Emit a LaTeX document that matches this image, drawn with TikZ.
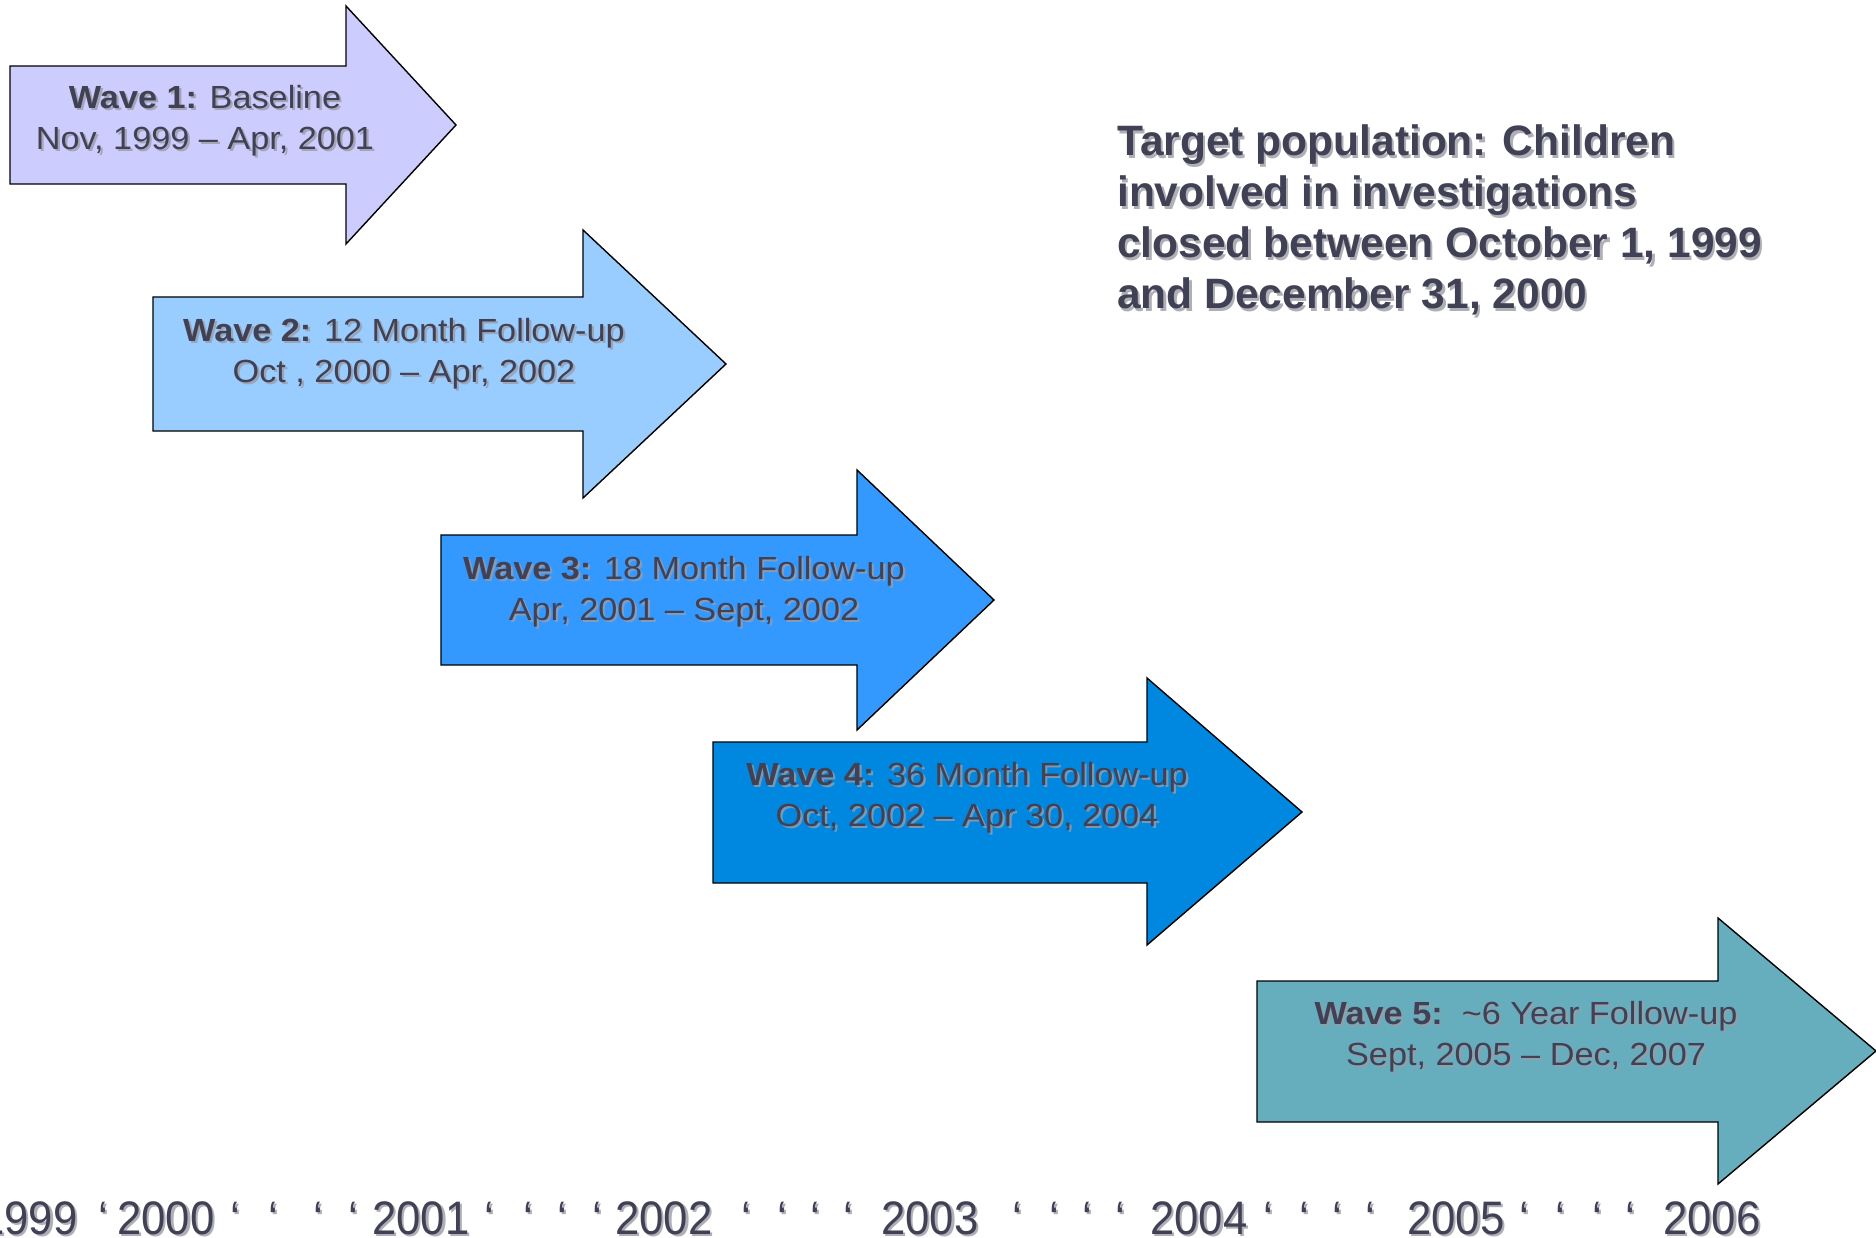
\documentclass[tikz,border=0pt]{standalone}
\usepackage{fontspec}
\setmainfont{Liberation Sans}
\newfontfamily\wavefont[FakeStretch=1.07]{Liberation Sans}
\newfontfamily\axisfont[FakeStretch=0.93]{Liberation Sans}
\usetikzlibrary{calc}

\definecolor{waveA}{HTML}{CCCCFF}
\definecolor{waveB}{HTML}{99CCFF}
\definecolor{waveC}{HTML}{3399FF}
\definecolor{waveD}{HTML}{0088E0}
\definecolor{waveE}{HTML}{66AEBE}
\definecolor{ink}{HTML}{414155}
\definecolor{inkshadow}{HTML}{9C9CA6}

% text drawn twice: a soft offset shadow, then the dark text on top
\newcommand\shadowed[4]{%
  \node[#3, text=inkshadow, text opacity=0.8] (#1-sh) at ($(#2)+(2.2,2.2)$) {#4};
  \node[#3, text=ink] (#1) at (#2) {#4};
}

% block arrow: colour, left x, body top, body bottom, head x, head top, head bottom, tip x, tip y
\newcommand\blockarrow[9]{%
  \draw[arrowshape, fill=#1] (#2,#3) -- (#5,#3) -- (#5,#6) -- (#8,#9)
    -- (#5,#7) -- (#5,#4) -- (#2,#4) -- cycle;
}

\begin{document}
\begin{tikzpicture}[x=1pt, y=-1pt,
  arrowshape/.style={draw=black, line width=1.4pt, line join=miter},
  wavetext/.style={inner sep=0pt, align=center,
    font=\wavefont\fontsize{32}{41}\selectfont},
  notetext/.style={inner sep=0pt, align=left, anchor=north west,
    font=\bfseries\fontsize{42.5}{51}\selectfont},
  yeartext/.style={inner sep=0pt, anchor=base west,
    font=\axisfont\fontsize{47}{52}\selectfont},
  ticktext/.style={inner sep=0pt, anchor=base,
    font=\axisfont\fontsize{47}{52}\selectfont}]

\useasboundingbox (0,0) rectangle (1876,1238);
\fill[white] (0,0) rectangle (1876,1238);

% the five survey waves
\blockarrow{waveA}{10}{66}{184}{346}{6}{244}{456}{125}
\blockarrow{waveB}{153}{297}{431}{583}{230}{498}{726}{364}
\blockarrow{waveC}{441}{535}{665}{857}{470}{730}{994}{600}
\blockarrow{waveD}{713}{742}{883}{1147}{678}{945}{1302}{812}
\blockarrow{waveE}{1257}{981}{1122}{1718}{918}{1184}{1876}{1051}

\shadowed{w1}{205,121}{wavetext}{{\bfseries Wave 1:} Baseline\\Nov, 1999 – Apr, 2001}
\shadowed{w2}{404,354}{wavetext}{{\bfseries Wave 2:} 12 Month Follow-up\\Oct , 2000 – Apr, 2002}
\shadowed{w3}{684,592}{wavetext}{{\bfseries Wave 3:} 18 Month Follow-up\\Apr, 2001 – Sept, 2002}
\shadowed{w4}{967,798}{wavetext}{{\bfseries Wave 4:} 36 Month Follow-up\\Oct, 2002 – Apr 30, 2004}
\shadowed{w5}{1526,1037}{wavetext}{{\bfseries Wave 5:}\ \ \textasciitilde6 Year Follow-up\\Sept, 2005 – Dec, 2007}

% sample description
\shadowed{target}{1117,125}{notetext}{Target population: Children\\involved in investigations\\closed between October 1, 1999\\and December 31, 2000}

% calendar axis along the bottom edge
\shadowed{y1999}{-20,1234}{yeartext}{1999}
\shadowed{y2000}{117,1234}{yeartext}{2000}
\shadowed{y2001}{372,1234}{yeartext}{2001}
\shadowed{y2002}{615,1234}{yeartext}{2002}
\shadowed{y2003}{881,1234}{yeartext}{2003}
\shadowed{y2004}{1150,1234}{yeartext}{2004}
\shadowed{y2005}{1407,1234}{yeartext}{2005}
\shadowed{y2006}{1663,1234}{yeartext}{2006}
\foreach \t in {103,235,273,318,353,489,528,562,597,746,782,815,848,
                1017,1054,1087,1120,1268,1304,1337,1370,1524,1560,1597,1630}{
  \shadowed{tick\t}{\t,1234}{ticktext}{‘}
}
\end{tikzpicture}
\end{document}
